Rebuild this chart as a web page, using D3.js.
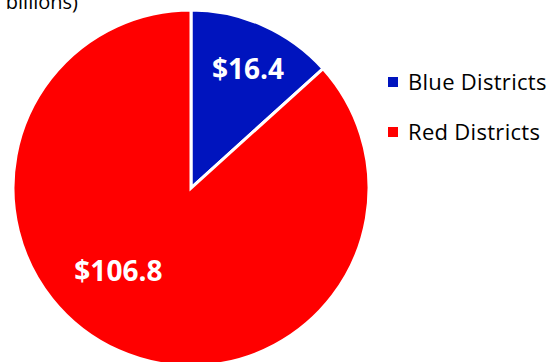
<!DOCTYPE html>
<html>
<head>
<meta charset="utf-8">
<script src="https://cdn.jsdelivr.net/npm/d3@7"></script>
<style>
  body { margin: 0; background: #fff; }
  svg { display: block; font-family: "Open Sans", sans-serif; }
</style>
</head>
<body>
<div class="chart"></div>
<script>
  var categories = ["Blue Districts", "Red Districts"];
  var values = [16.4, 106.8];
  var labels = ["$16.4", "$106.8"];
  var colors = ["#0014BE", "#FF0000"];

  var width = 551, height = 362;
  var cx = 191, cy = 188, radius = 178;

  var svg = d3.select(".chart")
          .append("svg")
          .attr("width", width)
          .attr("height", height);

  // partial title cut off at the top
  svg.append("text")
          .attr("x", 78)
          .attr("y", 9)
          .attr("text-anchor", "end")
          .style("font-size", "20px")
          .style("fill", "#000")
          .text("(in billions)");

  var data = categories.map(function(c, i) {
      return {name: c, value: values[i], label: labels[i], color: colors[i]};
  });

  var pie = d3.pie()
          .sort(null)
          .value(function(d) { return d.value; });

  var arc = d3.arc()
          .innerRadius(0)
          .outerRadius(radius);

  var g = svg.append("g")
          .attr("transform", "translate(" + cx + "," + cy + ")");

  var arcs = pie(data);

  g.selectAll("path")
          .data(arcs)
          .enter()
          .append("path")
          .attr("d", arc)
          .style("fill", function(d) { return d.data.color; })
          .style("stroke", "#fff")
          .style("stroke-width", 3)
          .style("stroke-linejoin", "miter");

  // label placement (Excel best-fit style)
  var labelPos = [
      {r: 0.74, shift: 0.03},
      {r: 0.62, shift: 0.30}
  ];

  g.selectAll(".lbl")
          .data(arcs)
          .enter()
          .append("text")
          .attr("class", "lbl")
          .attr("transform", function(d, i) {
              var a = (d.startAngle + d.endAngle) / 2 + labelPos[i].shift;
              var r = radius * labelPos[i].r;
              return "translate(" + (Math.sin(a) * r) + "," + (-Math.cos(a) * r) + ")";
          })
          .attr("text-anchor", "middle")
          .attr("dy", "0.36em")
          .style("font-size", "28px")
          .style("font-weight", "bold")
          .style("fill", "#fff")
          .text(function(d) { return d.data.label; });

  var legend = svg.selectAll(".legend")
          .data(data)
          .enter()
          .append("g")
          .attr("class", "legend")
          .attr("transform", function(d, i) {
              return "translate(388," + (77 + i * 50) + ")";
          });

  legend.append("rect")
          .attr("width", 10)
          .attr("height", 10)
          .style("fill", function(d) { return d.color; });

  legend.append("text")
          .attr("x", 20)
          .attr("y", 5)
          .attr("dy", "0.36em")
          .style("font-size", "22px")
          .style("letter-spacing", "0.3px")
          .style("fill", "#000")
          .text(function(d) { return d.name; });
</script>
</body>
</html>
